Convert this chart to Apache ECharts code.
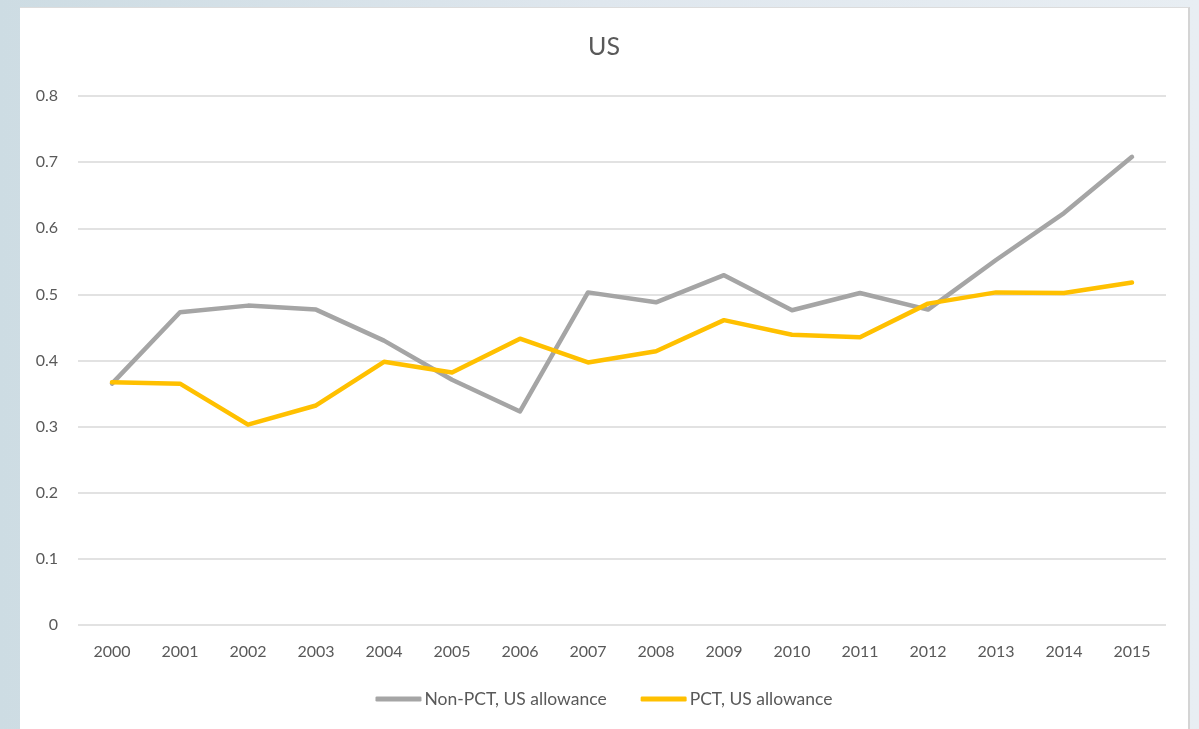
<!DOCTYPE html>
<html>
<head>
<meta charset="utf-8">
<title>US</title>
<script src="https://cdn.jsdelivr.net/npm/echarts@6/dist/echarts.min.js"></script>
<style>
  html, body { margin: 0; padding: 0; width: 1199px; height: 729px; overflow: hidden; }
  body { background: linear-gradient(90deg, #cddce3 0%, #dfe7ee 50%, #e8eef3 100%); position: relative; }
  #panel {
    position: absolute; left: 20px; top: 7px; width: 1168px; height: 722px;
    background: #fff; border-right: 2px solid #d4d4d4; border-top: 1px solid #dcdcdc;
  }
  #chart { width: 100%; height: 100%; }
</style>
</head>
<body>
<div id="panel"><div id="chart"></div></div>
<script>
  const years = ["2000", "2001", "2002", "2003", "2004", "2005", "2006", "2007",
    "2008", "2009", "2010", "2011", "2012", "2013", "2014", "2015"];
  const nonPct = [0.365, 0.473, 0.483, 0.477, 0.43, 0.371, 0.323, 0.503,
    0.488, 0.529, 0.476, 0.502, 0.477, 0.552, 0.623, 0.708];
  const pct = [0.367, 0.365, 0.303, 0.332, 0.398, 0.382, 0.433, 0.397,
    0.414, 0.461, 0.439, 0.435, 0.486, 0.503, 0.502, 0.518];
  const seriesNames = ["Non-PCT, US allowance", "PCT, US allowance"];

  const font = "Lato, 'Open Sans', sans-serif";
  const chart = echarts.init(document.getElementById("chart"));

  chart.setOption({
    animation: false,
    textStyle: { fontFamily: font },
    title: {
      text: "US",
      left: "center",
      top: 21,
      textStyle: { fontFamily: font, fontSize: 25, fontWeight: "normal", color: "#595959" },
    },
    grid: { left: 58, right: 22, top: 88, bottom: 105 },
    legend: {
      bottom: 17,
      left: "center",
      itemWidth: 46,
      itemHeight: 5,
      itemGap: 34,
      icon: "roundRect",
      textStyle: { fontFamily: font, fontSize: 17.5, color: "#595959", padding: [0, 0, 0, -2] },
      data: seriesNames,
    },
    xAxis: {
      type: "category",
      data: years,
      boundaryGap: true,
      axisLine: { show: false },
      axisTick: { show: false },
      axisLabel: { fontFamily: font, fontSize: 16, color: "#595959", margin: 19 },
    },
    yAxis: {
      type: "value",
      min: 0,
      max: 0.8,
      interval: 0.1,
      axisLine: { show: false },
      axisTick: { show: false },
      splitLine: { lineStyle: { color: "#d9d9d9", width: 1.5 } },
      axisLabel: { fontFamily: font, fontSize: 16, color: "#595959", margin: 20 },
    },
    series: [
      {
        name: seriesNames[0],
        type: "line",
        data: nonPct,
        showSymbol: false,
        lineStyle: { color: "#a5a5a5", width: 4.5, cap: "round", join: "round" },
        itemStyle: { color: "#a5a5a5" },
      },
      {
        name: seriesNames[1],
        type: "line",
        data: pct,
        showSymbol: false,
        lineStyle: { color: "#ffc000", width: 4.5, cap: "round", join: "round" },
        itemStyle: { color: "#ffc000" },
      },
    ],
  });
</script>
</body>
</html>
